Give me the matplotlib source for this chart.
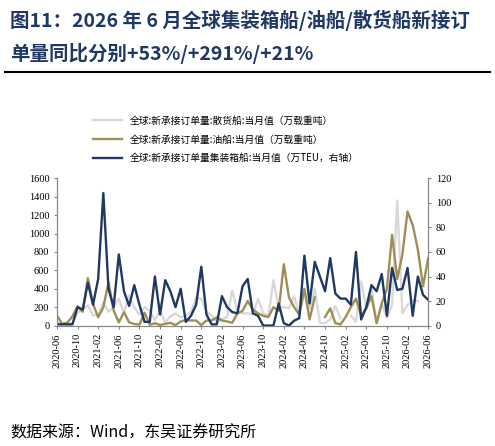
import matplotlib

matplotlib.use("Agg")
import matplotlib.pyplot as plt
import numpy as np
import pandas as pd

plt.rcParams["font.family"] = ["Noto Sans CJK SC", "DejaVu Sans"]

months = pd.period_range("2020-06", "2026-06", freq="M").strftime("%Y-%m").tolist()

# 散货船, 万载重吨 (left axis)
bulk = [20, 20, 20, 20, 140, 180, 220, 110, 120, 250, 150, 200, 290, 140, 330, 200,
        120, 200, 160, 60, 170, 30, 100, 130, 90, 110, 150, 300, 290, 150, 110, 30,
        70, 90, 380,
        160, 133, 133, 120, 293, 133, 107, 493, 200, 200, 187, 320, 120, 360, 187, 400,
        27, 27, 67, 213, 80, np.nan, 107, 40, 480, 187, 400, 27, 240, 80, 227, 1360,
        133, 227, 267, 267, np.nan, 587]
# 油船, 万载重吨 (left axis)
tanker = [110, 20, 30, 100, 210, 150, 515, 235, 90, 200, 470, 165, 35, 145, 35, 18,
          10, 140, 10, 25, 7, 18, 30, 5, 45, 60, 55, 55, 5, 55, 55, 90, 55, 45, 30,
          133, 160, 267, 173, 133, 107, 93, 200, 160, 667, 307, 200, 120, 400, 67, 307,
          np.nan, 93, 187, 27, 13, 93, 200, 293, 107, 187, 320, 27, 240, 400, 987, 507,
          773, 1240, 1093, 827, 427, 733]
# 集装箱船, 万TEU (right axis)
container = [1, 1, 1, 1, 15, 13, 35, 17, 38, 108, 30, 15, 58, 28, 16, 33, 17, 3, 3,
             40, 9, 37, 28, 15, 30, 3, 8, 17, 48, 9, 1, 1, 24, 15, 11, 10, 32, 38, 10,
             8, 0, 0,
             0, 18, 2, 0, 4, 6, 57, 18, 52, 40, 28, 55, 26, 22, 22, 17, 60, 5, 15, 33,
             28, 42, 8, 47, 29, 30, 47, 8, 40, 25, 21]

labels = ["全球:新承接订单量:散货船:当月值（万载重吨）",
          "全球:新承接订单量:油船:当月值（万载重吨）",
          "全球:新承接订单量集装箱船:当月值（万TEU，右轴）"]

fig = plt.figure(figsize=(4.95, 4.46), dpi=100)
navy = "#1F3864"
fig.text(0.02, 0.955, "图11：2026 年 6 月全球集装箱船/油船/散货船新接订", fontsize=14,
         weight="bold", color=navy, va="center")
fig.text(0.02, 0.88, "单量同比分别+53%/+291%/+21%", fontsize=14,
         weight="bold", color=navy, va="center")
fig.add_artist(plt.Line2D([0.01, 0.99], [0.838, 0.838], color="black", lw=1.5))
fig.text(0.02, 0.03, "数据来源：Wind，东吴证券研究所", fontsize=11.5, va="center")

ax = fig.add_axes([0.115, 0.27, 0.75, 0.33])
x = np.arange(len(months))
l1, = ax.plot(x, bulk, color="#D9D9D9", lw=1.7)
l2, = ax.plot(x, tanker, color="#9E8F55", lw=1.7)
ax.set_ylim(0, 1600)
ax.set_yticks(range(0, 1601, 200))
ax2 = ax.twinx()
l3, = ax2.plot(x, container, color="#1F3864", lw=1.7)
ax2.set_ylim(0, 120)
ax2.set_yticks(range(0, 121, 20))
ax.set_xlim(0, len(months) - 1)
ax.set_xticks(x[::4])
ax.set_xticklabels(months[::4], rotation=90, fontsize=7, family="Liberation Serif")
for a in (ax, ax2):
    a.tick_params(labelsize=7.5, length=2, color="#888888")
    for lab in a.get_yticklabels():
        lab.set_family("Liberation Serif")
    for s in a.spines.values():
        s.set_color("#888888")
    a.spines["top"].set_visible(False)

fig.legend([l1, l2, l3], labels, loc="upper left", bbox_to_anchor=(0.17, 0.76),
           frameon=False, fontsize=7, handlelength=3, labelspacing=0.9)

fig.savefig("out.png", dpi=100)
